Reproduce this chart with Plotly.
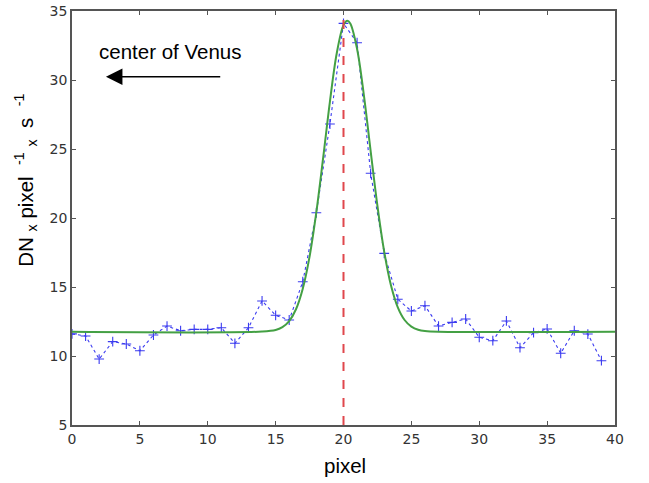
import plotly.graph_objects as go

# measured profile (DN per pixel per second) at each pixel
pixels = list(range(40))
counts = [11.60, 11.45, 9.78, 11.04, 10.87, 10.38, 11.52, 12.17, 11.83, 11.93,
          11.93, 12.05, 10.92, 12.05, 13.99, 12.95, 12.61, 15.38, 20.38, 26.81,
          34.10, 32.70, 23.24, 17.44, 14.11, 13.26, 13.64, 12.17, 12.44, 12.68,
          11.36, 11.11, 12.54, 10.60, 11.69, 11.96, 10.20, 11.83, 11.59, 9.66]

# fitted curve
fit_x = [0, 14, 15, 15.5, 16, 16.5, 17, 17.5, 18, 18.5, 19, 19.5, 20, 20.28,
         20.5, 21, 21.5, 22, 22.5, 23, 23.5, 24, 24.5, 25, 25.5, 26, 27, 40]
fit_y = [11.75, 11.77, 11.88, 12.09, 12.53, 13.39, 14.88, 17.20, 20.43, 24.35,
         28.44, 31.92, 33.98, 34.30, 34.10, 32.25, 28.91, 24.85, 20.87, 17.55,
         15.11, 13.53, 12.61, 12.13, 11.90, 11.81, 11.76, 11.75]

peak_pixel = 20
x_ticks = [0, 5, 10, 15, 20, 25, 30, 35, 40]
y_ticks = [5, 10, 15, 20, 25, 30, 35]

LABEL_FONT = dict(family="Liberation Sans, Arial", size=20.5, color="black")

fig = go.Figure()
fig.add_trace(go.Scatter(
    x=pixels, y=counts, mode="lines+markers",
    line=dict(color="#3b3bf0", width=1.1, dash="dot"),
    marker=dict(symbol="cross-thin", size=7, line=dict(color="#3b3bf0", width=1.1)),
    showlegend=False))
fig.add_trace(go.Scatter(
    x=fit_x, y=fit_y, mode="lines", line_shape="spline",
    line=dict(color="#44a044", width=2), showlegend=False))

fig.add_shape(type="line", x0=peak_pixel, x1=peak_pixel, y0=0, y1=1,
              xref="x", yref="paper", layer="above",
              line=dict(color="#e0474c", width=2, dash="dash"))

fig.add_annotation(x=2.5, y=30.24, ax=11.03, ay=30.24, xref="x", yref="y",
                   axref="x", ayref="y", text="", showarrow=True,
                   arrowhead=2, arrowsize=2.2, arrowwidth=1.5, arrowcolor="black")
fig.add_annotation(x=7.19, y=32.1, xref="x", yref="y", text="center of Venus",
                   xanchor="center", yanchor="middle",
                   showarrow=False, font=LABEL_FONT)

# axis titles
fig.add_annotation(x=0.503, y=-0.097, xref="paper", yref="paper", text="pixel",
                   xanchor="center", yanchor="middle",
                   showarrow=False, font=LABEL_FONT)
fig.add_annotation(x=-0.085, y=0.592, xref="paper", yref="paper", textangle=-90,
                   xanchor="center", yanchor="middle",
                   text="DN <sub>x</sub> pixel &nbsp;<sup>-1</sup> <sub>x</sub> &nbsp;s &nbsp;<sup>-1</sup>",
                   showarrow=False, font=LABEL_FONT)

axis_common = dict(showline=True, linecolor="#555555", linewidth=1.5, mirror="ticks",
                   ticks="inside", ticklen=4, tickcolor="#555555", showgrid=False,
                   zeroline=False, automargin=False,
                   tickfont=dict(family="DejaVu Sans, Arial", size=14, color="#333333"))

fig.update_xaxes(range=[0, 40], tickvals=x_ticks, **axis_common)
fig.update_yaxes(range=[5, 35], tickvals=y_ticks, **axis_common)

fig.update_layout(width=649, height=483, plot_bgcolor="white", paper_bgcolor="white",
                  margin=dict(l=72, r=34, t=11, b=58, autoexpand=False))
fig.write_html("out.html", config={"displayModeBar": False},
               post_script="document.body.style.margin='0';")
